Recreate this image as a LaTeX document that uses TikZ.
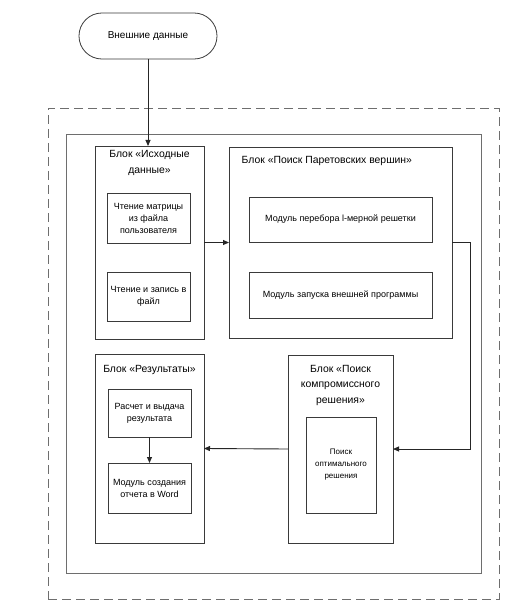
\documentclass[tikz,border=0pt]{standalone}
\usepackage{fontspec}
\setmainfont{Liberation Sans}
\usetikzlibrary{arrows.meta}
\definecolor{linec}{HTML}{3A3A3A}
\definecolor{framec}{HTML}{6E6E6E}
\begin{document}
\begin{tikzpicture}[x=1pt,y=-1pt,
  box/.style={draw=linec, line width=0.8pt, rectangle, inner sep=0pt, outer sep=0pt},
  inbox/.style={box, align=center, font=\fontsize{9}{12}\selectfont},
  ttl/.style={inner sep=0pt, align=center, font=\fontsize{10.4}{15.5}\selectfont},
  conn/.style={draw=black!85, line width=0.9pt},
  arr/.style={conn, -{Triangle[length=6pt,width=5pt]}}]
\useasboundingbox (0,0) rectangle (521,604);
% terminator
\node[draw=linec, line width=0.8pt, rounded corners=22.9pt, minimum width=138pt, minimum height=46pt, inner sep=0pt, outer sep=0pt, font=\fontsize{10}{12}\selectfont] (term) at (148,36) {Внешние данные};
% outer frames
\node[draw=framec, dash pattern=on 9pt off 5pt, line width=0.9pt, minimum width=451pt, minimum height=491pt, inner sep=0pt, outer sep=0pt] (dash) at (273.5,353.5) {};
\node[draw=framec, line width=0.9pt, minimum width=415pt, minimum height=439pt, inner sep=0pt, outer sep=0pt] (frame) at (273.5,353.5) {};
% block: source data
\node[box, minimum width=109pt, minimum height=193pt] (src) at (149.5,242.5) {};
\node[ttl, anchor=north] (srct) at (149.5,150.5) {Блок «Исходные\\данные»};
\node[inbox, minimum width=83pt, minimum height=50pt] (src1) at (148.5,218) {Чтение матрицы\\из файла\\пользователя};
\node[inbox, minimum width=83pt, minimum height=49pt] (src2) at (148.5,296.5) {Чтение и запись в\\файл};
% block: Pareto
\node[box, minimum width=223pt, minimum height=191pt] (par) at (340.5,242.5) {};
\node[ttl, anchor=west] (part) at (241.5,161) {Блок «Поиск Паретовских вершин»};
\node[inbox, minimum width=183pt, minimum height=45pt] (par1) at (340.5,219.5) {Модуль перебора l-мерной решетки};
\node[inbox, minimum width=183pt, minimum height=46pt] (par2) at (340.5,295) {Модуль запуска внешней программы};
% block: results
\node[box, minimum width=109pt, minimum height=189pt] (res) at (149.5,448.5) {};
\node[ttl] (rest) at (149.5,370) {Блок «Результаты»};
\node[inbox, minimum width=83pt, minimum height=48pt] (res1) at (149.5,413) {Расчет и выдача\\результата};
\node[inbox, minimum width=83pt, minimum height=50pt] (res2) at (149.5,488) {Модуль создания\\отчета в Word};
% block: compromise
\node[box, minimum width=105pt, minimum height=188pt] (comp) at (340.5,449) {};
\node[ttl] (compt) at (340.5,385) {Блок «Поиск\\компромиссного\\решения»};
\node[inbox, minimum width=70pt, minimum height=96pt, font=\fontsize{8}{12}\selectfont] (comp1) at (341,465) {Поиск\\оптимального\\решения};
% connectors
\draw[arr] (term.south) -- (term.south |- src.north);
\draw[arr] (src.east) -- (par.west);
\coordinate (bend) at (470,449);
\draw[arr] (par.east) -| (bend) -- (comp.east);
\draw[arr] (comp.west) -- (res.east);
\draw[arr] (res1.south) -- (res2.north);
\end{tikzpicture}
\end{document}
